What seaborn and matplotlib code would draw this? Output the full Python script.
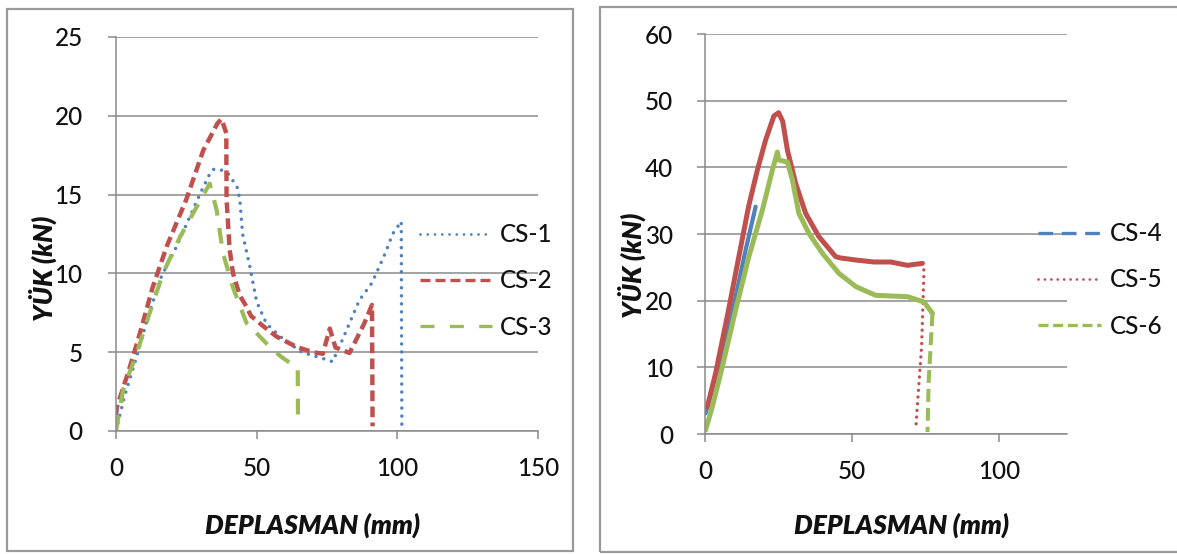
import matplotlib
matplotlib.use("Agg")
import matplotlib.pyplot as plt
import seaborn as sns
from matplotlib.lines import Line2D
from matplotlib.patches import Rectangle

# ---- left panel: CS-1 .. CS-3 (load vs displacement) ----
cs1_x = [0, 3, 7, 11, 15.6, 21.5, 26, 30, 33, 34.5, 37, 40, 43, 44, 45, 47.5, 50,
         53.5, 59, 66, 73.5, 77, 80.5, 86.5, 91, 96, 98.3, 101.4, 101.6]
cs1_y = [0, 2.2, 4.5, 7.0, 9.6, 11.7, 13.5, 15.1, 16.2, 16.6, 16.6, 16.3, 15.5, 14.7,
         12.5, 10.5, 8.2, 6.8, 5.9, 5.0, 4.6, 4.4, 5.8, 8.3, 9.4, 11.4, 12.5, 13.3, 0.4]

cs2_x = [0, 0.3, 5, 8.5, 13, 18, 25, 31, 36, 37.5, 39.2, 39.3, 40.4, 41.6, 44, 46,
         48, 52, 57, 64, 70, 73.5, 76, 78, 83, 85.4, 88.3, 91, 91.2]
cs2_y = [1.0, 1.5, 4.1, 6.2, 9.1, 11.7, 14.7, 17.8, 19.5, 19.8, 18.9, 14.7, 11.5,
         10.0, 8.6, 8.0, 7.3, 6.7, 6.0, 5.35, 5.0, 4.9, 6.5, 5.3, 4.95, 5.8, 6.85, 8.0, 0.3]

cs3_x = [0, 2.5, 7.3, 12, 16.7, 22.7, 28.6, 33.3, 35.8, 38, 41.6, 46.4, 50, 54.6,
         58.8, 62, 64.6, 64.7]
cs3_y = [0, 2.6, 4.9, 7.5, 10.0, 12.3, 14.2, 15.7, 14.0, 11.3, 9.1, 6.85, 6.2, 5.35,
         4.7, 4.3, 4.0, 0.5]

# ---- right panel: CS-4 .. CS-6 ----
cs4_x = [0.2, 3, 5.9, 10.4, 13.8, 17.2]
cs4_y = [3.1, 7.5, 11.6, 20.6, 27.6, 34.1]

cs5_x = [0.8, 3.6, 8, 11.5, 14.8, 17.8, 20.6, 23.4, 25, 26.4, 28, 30.8, 34.2, 38.7,
         44.4, 46.1, 51.2, 57.4, 63.1, 68.8, 73.9, 74.4, 73.6, 72.2, 71.6]
cs5_y = [4.1, 9.1, 18.6, 26.6, 34.1, 39.6, 44.1, 47.7, 48.2, 46.9, 42.6, 37.6, 33.1,
         29.6, 26.6, 26.4, 26.1, 25.8, 25.8, 25.3, 25.6, 24.5, 13.1, 4.6, 0.6]
cs5_break = 20   # index where the unloading branch starts

cs6_x = [0.2, 2.5, 5.9, 10.4, 14.9, 19.5, 22.9, 24.6, 25.1, 28, 29.7, 31.9, 35.3,
         39.9, 45.5, 51.3, 58, 68.8, 74.4, 77.3, 76, 75.6]
cs6_y = [0.6, 4.1, 10.1, 18.6, 26.6, 33.6, 39.6, 42.3, 41.1, 40.8, 38.1, 33.1, 30.1,
         27.1, 24.1, 22.1, 20.8, 20.6, 19.8, 18.1, 8.0, 0.3]
cs6_break = 19

left_labels = ["CS-1", "CS-2", "CS-3"]
right_labels = ["CS-4", "CS-5", "CS-6"]

BLUE = "#4F81BD"
RED = "#C0504D"
GREEN = "#9BBB59"
GRID = "#8a8a8a"
TXT = "#111111"

sns.set_style("white")
plt.rcParams["font.family"] = ["Lato", "DejaVu Sans"]

W, H = 1177, 554
fig = plt.figure(figsize=(W / 100, H / 100), dpi=100)


def px_axes(x0, x1, y_top, y_bot):
    return fig.add_axes([x0 / W, 1 - y_bot / H, (x1 - x0) / W, (y_bot - y_top) / H])


# panel frames
fig.patches.append(Rectangle((7 / W, 1 - 551 / H), (573 - 7) / W, (551 - 9) / H,
                             transform=fig.transFigure, fill=False,
                             edgecolor="#9a9a9a", lw=1.6))
fig.patches.append(Rectangle((600 / W, 1 - 552 / H), (1190 - 600) / W, (552 - 7) / H,
                             transform=fig.transFigure, fill=False,
                             edgecolor="#9a9a9a", lw=1.6))

ax1 = px_axes(116, 538, 37, 431)
ax2 = px_axes(705, 1067, 34, 434)

TICK_FS = 17.5


def style_axes(ax, xmax, xticks, ymax, ystep, ypad):
    ax.set_xlim(0, xmax)
    ax.set_ylim(0, ymax)
    ax.set_xticks(xticks)
    ax.set_yticks(range(0, ymax + 1, ystep))
    ax.grid(axis="y", color=GRID, lw=1.1)
    ax.grid(axis="x", visible=False)
    ax.set_axisbelow(True)
    for side in ("top", "right"):
        ax.spines[side].set_visible(False)
    for side in ("left", "bottom"):
        ax.spines[side].set_color(GRID)
        ax.spines[side].set_linewidth(1.1)
    ax.tick_params(axis="y", direction="out", length=6, width=1.1, color=GRID,
                   pad=ypad, labelsize=TICK_FS, labelcolor=TXT, left=True)
    ax.tick_params(axis="x", direction="out", length=6, width=1.1, color=GRID,
                   pad=13, labelsize=TICK_FS, labelcolor=TXT, bottom=True)
    for lab in ax.get_xticklabels() + ax.get_yticklabels():
        lab.set_fontweight("medium")
    ax.set_facecolor("none")


style_axes(ax1, 150, [0, 50, 100, 150], 25, 5, 18)
style_axes(ax2, 123, [0, 50, 100], 60, 10, 17)

# left panel curves
sns.lineplot(x=cs1_x, y=cs1_y, sort=False, estimator=None, ax=ax1, color=BLUE,
             lw=2.5, linestyle=(0, (0.01, 2.3)), dash_capstyle="round")
sns.lineplot(x=cs2_x, y=cs2_y, sort=False, estimator=None, ax=ax1, color=RED,
             lw=3.2, linestyle=(0, (2.4, 1.2)))
sns.lineplot(x=cs3_x, y=cs3_y, sort=False, estimator=None, ax=ax1, color=GREEN,
             lw=3.0, linestyle=(0, (3.8, 3.0)))

# right panel curves: dense loading branches look continuous,
# the final unloading drops keep their series dash pattern
sns.lineplot(x=cs4_x, y=cs4_y, sort=False, estimator=None, ax=ax2, color=BLUE, lw=3.0)
sns.lineplot(x=cs5_x[:cs5_break + 1], y=cs5_y[:cs5_break + 1], sort=False,
             estimator=None, ax=ax2, color=RED, lw=3.6)
sns.lineplot(x=cs5_x[cs5_break:], y=cs5_y[cs5_break:], sort=False, estimator=None,
             ax=ax2, color=RED, lw=2.4, linestyle=(0, (0.01, 2.0)),
             dash_capstyle="round")
sns.lineplot(x=cs6_x[:cs6_break + 1], y=cs6_y[:cs6_break + 1], sort=False,
             estimator=None, ax=ax2, color=GREEN, lw=3.6)
sns.lineplot(x=cs6_x[cs6_break:], y=cs6_y[cs6_break:], sort=False, estimator=None,
             ax=ax2, color=GREEN, lw=2.9, linestyle=(0, (3.2, 1.5)))

# axis titles
lab_font = dict(fontsize=19, fontweight="heavy", fontstyle="italic", color=TXT)
for ax, xl_center_px, yl_center_px, yl_x_px, x0, x1, yt, yb in (
        (ax1, 313, 268, 43, 116, 538, 37, 431),
        (ax2, 902, 265, 632, 705, 1067, 34, 434)):
    ax.set_xlabel("DEPLASMAN (mm)", **lab_font)
    ax.set_ylabel("YÜK (kN)", **lab_font)
    ax.xaxis.set_label_coords((xl_center_px - x0) / (x1 - x0), (yb - 525) / (yb - yt))
    ax.xaxis.label.set_va("center")
    ax.yaxis.set_label_coords((yl_x_px - x0) / (x1 - x0), (yb - yl_center_px) / (yb - yt))
    ax.yaxis.label.set_va("center")

# legends
left_handles = [
    Line2D([], [], color=BLUE, lw=2.0, linestyle=(0, (0.01, 2.6)), dash_capstyle="round"),
    Line2D([], [], color=RED, lw=2.4, linestyle=(0, (3.0, 1.5))),
    Line2D([], [], color=GREEN, lw=2.4, linestyle=(0, (4.2, 4.6))),
]
right_handles = [
    Line2D([], [], color=BLUE, lw=2.4, linestyle=(0, (4.4, 2.6))),
    Line2D([], [], color=RED, lw=2.0, linestyle=(0, (0.01, 2.3)), dash_capstyle="round"),
    Line2D([], [], color=GREEN, lw=2.4, linestyle=(0, (3.0, 1.4))),
]
for ax, handles, labels, lx, ly, hl in (
        (ax1, left_handles, left_labels, 420, 281, 2.95),
        (ax2, right_handles, right_labels, 1038, 280, 2.6)):
    leg = ax.legend(handles=handles, labels=labels, loc="center left",
                    bbox_to_anchor=(lx / W, 1 - ly / H), bbox_transform=fig.transFigure,
                    frameon=False, fontsize=17.5, handlelength=hl, handletextpad=0.35,
                    labelspacing=0.95, borderpad=0, borderaxespad=0, labelcolor=TXT)
    for t in leg.get_texts():
        t.set_fontweight("medium")

fig.savefig("out.png", dpi=100, facecolor="white")
